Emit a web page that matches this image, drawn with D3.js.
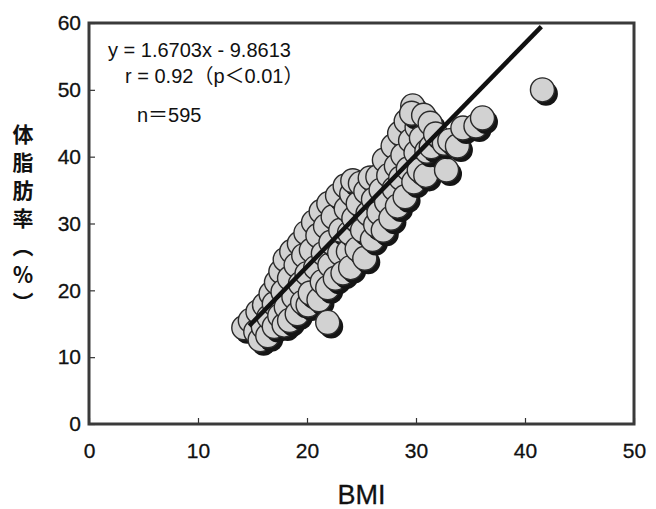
<!DOCTYPE html>
<html>
<head>
<meta charset="utf-8">
<script src="https://cdn.jsdelivr.net/npm/d3@7"></script>
<style>
  body { margin: 0; background: #fff; }
  svg text { font-family: "Liberation Sans", Arial, "Noto Sans CJK JP", sans-serif; fill: #111; }
  .ytitle { writing-mode: vertical-rl; text-orientation: mixed; }
</style>
</head>
<body>
<div id="chart"></div>
<script>
// data: [BMI, body fat %]
var bmi = [14.2,14.8,15.3,15.7,15.5,16.0,16.1,
  16.4,16.5,16.7,17.0,17.0,17.2,17.5,17.6,17.9,17.8,18.0,18.1,
  18.4,18.4,18.6,18.8,19.0,19.1,19.3,19.4,19.6,19.7,19.9,20.0,20.1,
  20.3,20.4,20.6,20.8,21.0,21.1,21.3,21.4,21.5,21.7,21.9,22.0,22.1,22.2,21.9,
  22.4,22.6,22.8,23.0,23.1,23.3,23.5,23.6,23.8,23.9,24.0,24.1,24.2,24.3,
  24.6,24.7,24.9,25.1,25.3,25.4,25.6,25.8,26.0,26.1,26.3,
  26.5,26.6,26.8,27.0,27.1,27.3,27.5,27.7,27.9,28.0,28.2,28.3,
  28.5,28.6,28.8,29.0,29.1,29.3,29.5,29.7,29.8,30.0,30.1,29.6,
  30.3,30.5,30.7,30.9,31.0,31.3,31.4,31.8,
  32.8,32.6,33.1,33.8,34.3,35.5,36.1,41.6];
var fat = [14.4,15.5,13.8,12.6,16.8,14.5,17.8,
  13.2,16.0,19.5,14.6,18.0,21.2,16.2,22.8,14.8,19.8,24.6,17.5,
  15.5,21.8,25.8,19.0,23.8,16.5,27.0,21.0,18.2,25.2,28.6,22.5,17.8,
  19.6,26.0,30.2,23.4,28.2,18.6,31.8,21.3,25.5,29.6,20.4,33.0,23.8,27.2,15.2,
  31.0,21.8,34.2,25.6,29.0,22.6,35.6,32.2,25.8,28.6,23.4,34.4,36.4,30.8,
  26.2,33.0,36.0,29.0,24.8,34.8,31.5,36.8,27.6,33.6,29.8,
  37.0,31.6,35.0,29.0,39.5,33.2,37.2,30.8,41.6,35.2,38.6,32.6,
  43.5,36.8,40.2,34.0,45.3,38.2,42.4,47.6,36.2,40.6,44.4,46.5,
  38.0,42.8,46.2,37.2,40.8,45.0,41.5,43.4,
  38.0,42.0,42.4,41.6,44.3,44.6,45.8,50.0];

var xTicks = [0, 10, 20, 30, 40, 50];
var yTicks = [0, 10, 20, 30, 40, 50, 60];

// regression from the chart annotation
var slope = 1.6703, intercept = -9.8613;
var lineRange = [14.7, 41.5];

var annotation = ["y = 1.6703x - 9.8613", "r = 0.92（p＜0.01）", "n＝595"];
var yTitle = "体脂肪率（％）";

var W = 656, H = 509;
var margin = {top: 23, right: 22, bottom: 85, left: 89};
var width = W - margin.left - margin.right;
var height = H - margin.top - margin.bottom;

var svg = d3.select("#chart").append("svg")
  .attr("width", W).attr("height", H);

var g = svg.append("g")
  .attr("transform", "translate(" + margin.left + "," + margin.top + ")");

var x = d3.scaleLinear().domain([0, 50]).range([0, width]);
var y = d3.scaleLinear().domain([0, 60]).range([height, 0]);

var points = bmi.map(function(b, i) { return {x: b, y: fat[i]}; });

var r = 12;
var dots = g.append("g").selectAll("g.dot")
  .data(points)
  .enter().append("g")
  .attr("class", "dot")
  .attr("transform", function(d) { return "translate(" + x(d.x) + "," + y(d.y) + ")"; });

dots.append("circle")
  .attr("cx", 3.5).attr("cy", 4)
  .attr("r", r)
  .attr("fill", "#151515");

dots.append("circle")
  .attr("r", r)
  .attr("fill", "#d2d2d2")
  .attr("stroke", "#2a2a2a")
  .attr("stroke-width", 1.4);

// fit line
g.append("line")
  .attr("x1", x(lineRange[0])).attr("y1", y(slope * lineRange[0] + intercept))
  .attr("x2", x(lineRange[1])).attr("y2", y(slope * lineRange[1] + intercept))
  .attr("stroke", "#111")
  .attr("stroke-width", 4.5);

// axes
var xAxis = d3.axisBottom(x)
  .tickValues(xTicks)
  .tickSizeInner(-6)
  .tickSizeOuter(0)
  .tickPadding(19);
var yAxis = d3.axisLeft(y)
  .tickValues(yTicks)
  .tickSizeInner(-6)
  .tickSizeOuter(0)
  .tickPadding(8);

var xa = g.append("g")
  .attr("transform", "translate(0," + height + ")")
  .call(xAxis);
var ya = g.append("g").call(yAxis);

[xa, ya].forEach(function(a) {
  a.select(".domain").remove();
  a.selectAll("line").attr("stroke", "#333").attr("stroke-width", 1.2);
  a.selectAll("text").style("font-size", "21px")
    .attr("fill", "#111").attr("stroke", "#111").attr("stroke-width", 0.3);
});

// plot frame
g.append("rect")
  .attr("width", width).attr("height", height)
  .attr("fill", "none")
  .attr("stroke", "#3a3a3a")
  .attr("stroke-width", 3);

// annotation
var ann = g.append("g").style("font-size", "20px");
ann.append("text").attr("x", 19).attr("y", 34).text(annotation[0]);
ann.append("text").attr("x", 36).attr("y", 60).text(annotation[1]);
ann.append("text").attr("x", 48).attr("y", 99).text(annotation[2]);

// axis titles
svg.append("text")
  .attr("x", margin.left + x(25))
  .attr("y", 504)
  .attr("text-anchor", "middle")
  .style("font-size", "27px")
  .attr("stroke", "#111").attr("stroke-width", 0.3)
  .text("BMI");

// vertical y title (vertical writing turns the brackets)
svg.append("text")
  .attr("class", "ytitle")
  .attr("x", 23)
  .attr("y", 124)
  .style("font-size", "21px")
  .style("font-weight", "bold")
  .style("letter-spacing", "7px")
  .style("font-family", "'Noto Sans CJK JP', sans-serif")
  .text(yTitle);
</script>
</body>
</html>
